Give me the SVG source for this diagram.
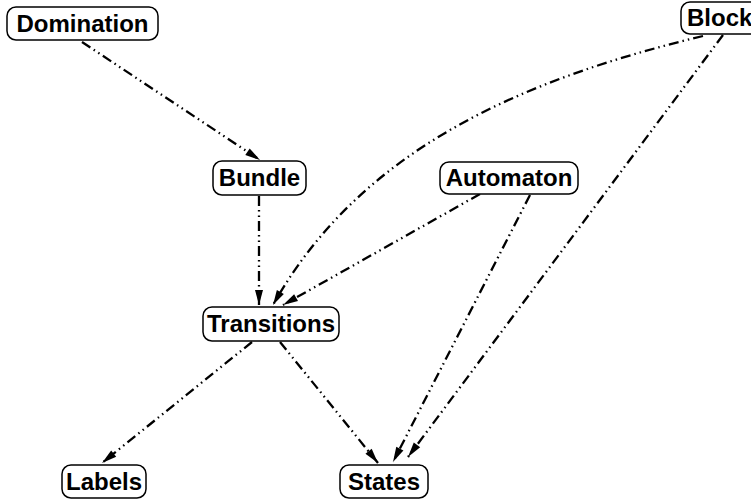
<svg xmlns="http://www.w3.org/2000/svg" width="751" height="501" viewBox="0 0 751 501">
<style>
.node rect{fill:#fff;stroke:#000;stroke-width:1.5}
.node text{font-family:"Liberation Sans",Arial,sans-serif;font-weight:bold;font-size:24px;fill:#000;text-anchor:middle}
.edge{fill:none;stroke:#000;stroke-width:2.3;stroke-dasharray:10,4,1.5,4,1.5,4;marker-end:url(#arr)}
</style>
<defs>
<marker id="arr" markerUnits="userSpaceOnUse" markerWidth="20" markerHeight="12" viewBox="-16 -6 17 12" refX="0" refY="0" orient="auto">
<path d="M0,0 L-15,-4 L-15,4 Z" fill="#000"/>
</marker>
</defs>
<rect width="751" height="501" fill="#fff"/>
<g id="connectors">
<path class="edge" d="M82,42 L260,160"/>
<path class="edge" d="M259,196 L259,305"/>
<path class="edge" d="M703,36 C520,80 360,150 273,305"/>
<path class="edge" d="M480,194 L283,305"/>
<path class="edge" d="M530,195 L393,462"/>
<path class="edge" d="M723,35 L408,457"/>
<path class="edge" d="M280,342 L378,463"/>
<path class="edge" d="M252,342 L102,463"/>
</g>
<g id="Domination" class="node"><rect x="7" y="7" width="151" height="33" rx="9"/><text x="82.5" y="32">Domination</text></g>
<g id="Block" class="node"><rect x="681" y="2" width="80" height="32" rx="9"/><text x="687" y="26" style="text-anchor:start">Block</text></g>
<g id="Bundle" class="node"><rect x="213" y="161" width="93" height="34" rx="9"/><text x="259.5" y="186">Bundle</text></g>
<g id="Automaton" class="node"><rect x="440" y="162" width="138" height="32" rx="9"/><text x="509" y="186">Automaton</text></g>
<g id="Transitions" class="node"><rect x="203" y="307" width="136" height="34" rx="9"/><text x="271" y="332">Transitions</text></g>
<g id="Labels" class="node"><rect x="62" y="465" width="84" height="33" rx="9"/><text x="104" y="490">Labels</text></g>
<g id="States" class="node"><rect x="340" y="465" width="88" height="33" rx="9"/><text x="384" y="490">States</text></g>
</svg>
